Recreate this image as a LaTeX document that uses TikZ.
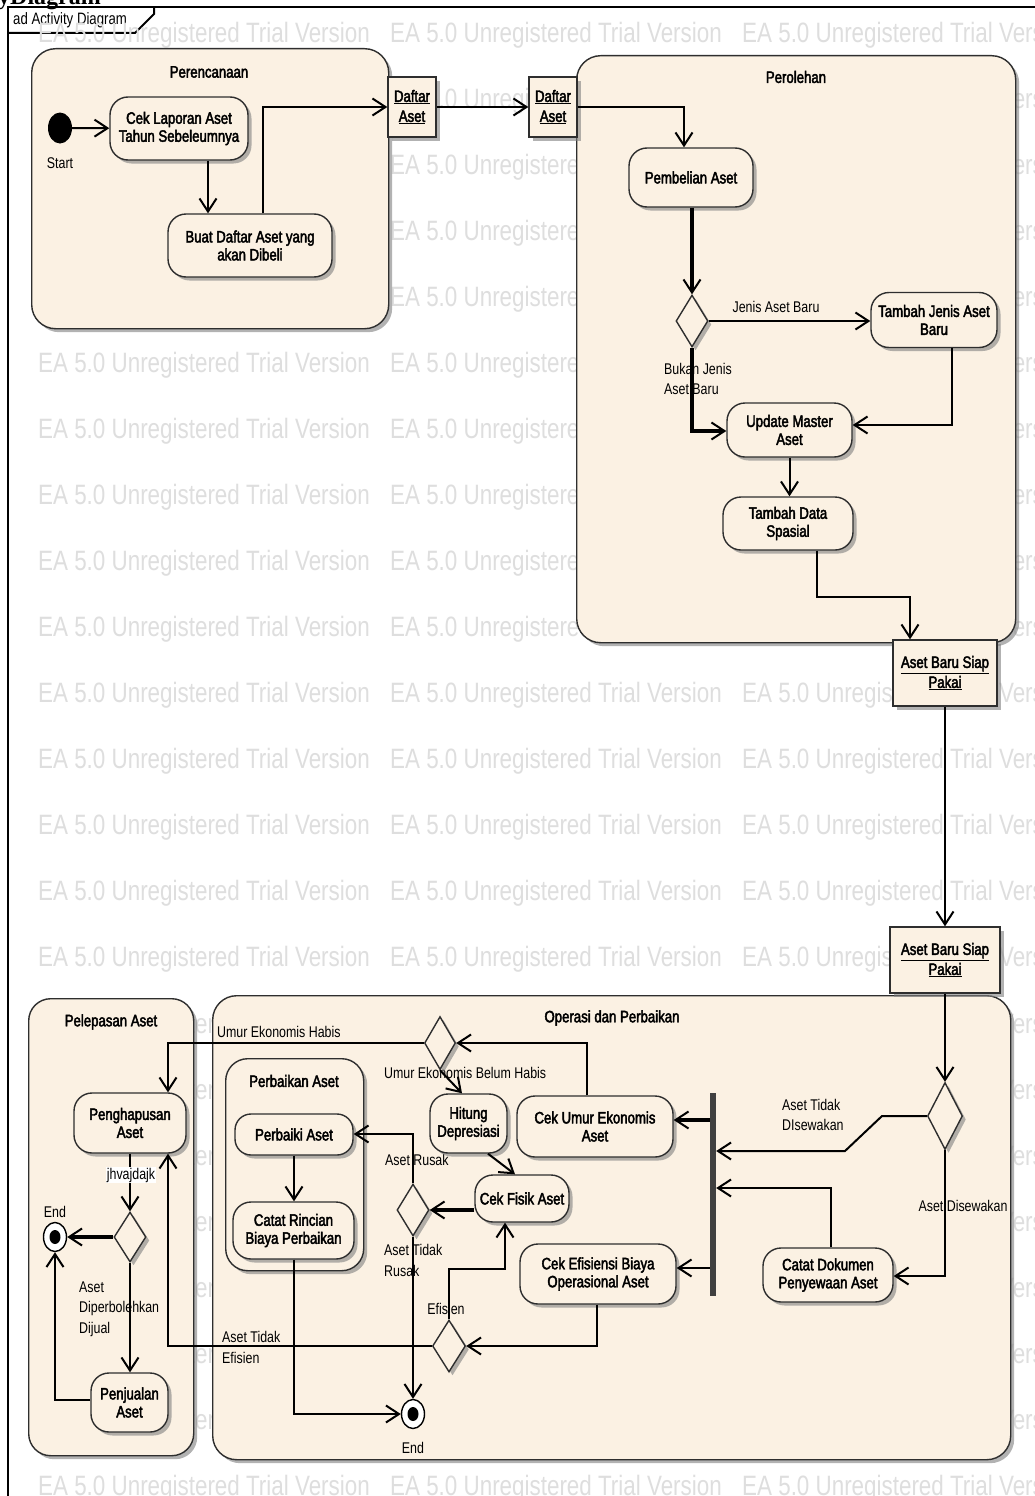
\documentclass[tikz,border=0pt]{standalone}
\usepackage{fontspec}
\setmainfont{Liberation Sans}[FakeStretch=0.8]
\newfontfamily\actfont{Liberation Sans}[FakeStretch=0.8,FakeBold=2.6]
\newfontfamily\lblfont{Liberation Sans}[FakeStretch=0.8]
\newfontfamily\capfont{Liberation Serif}
\usetikzlibrary{arrows.meta,shapes.geometric,shadows}
\definecolor{bg}{HTML}{FBF1E3}
\definecolor{wmgray}{HTML}{DEDEDE}
\tikzset{
  base/.style={draw=black!82, line width=1.4pt, fill=bg},
  shadowed/.style={drop shadow={shadow xshift=3.5pt, shadow yshift=-3.5pt, fill=black!50, opacity=.6}},
  container/.style={base, shadowed, rounded corners=24pt, inner sep=0pt, anchor=north west},
  act/.style={base, shadowed, rounded corners=18pt, inner sep=0pt, align=center,
    font=\actfont\fontsize{16.5}{18}\selectfont},
  pin/.style={base, shadowed, inner sep=0pt, align=center, font=\actfont\fontsize{16.5}{20}\selectfont},
  dec/.style={diamond, base, shadowed, inner sep=0pt},
  endnode/.style={ellipse, draw=black, line width=1.4pt, fill=white, minimum width=23pt,
    minimum height=29pt, inner sep=0pt,
    path picture={\fill[black] (path picture bounding box.center) ellipse [x radius=5.5pt, y radius=7pt];}},
  title/.style={font=\actfont\fontsize{16.5}{18}\selectfont, inner sep=0pt},
  lbl/.style={font=\lblfont\fontsize{15.5}{20.5}\selectfont, inner sep=0pt, align=left},
  wm/.style={font=\lblfont\fontsize{28}{28}\selectfont, text=wmgray, inner sep=0pt, anchor=west},
  edge/.style={line width=2pt, -{Straight Barb[length=13pt,width=17pt]}},
  thickedge/.style={line width=4pt, -{Straight Barb[length=13pt,width=17pt,line width=2pt 0 1]}},
}
\begin{document}
\begin{tikzpicture}[x=1pt,y=-1pt]
\useasboundingbox (0,0) rectangle (1034,1496);
\fill[white] (0,0) rectangle (1034,1496);

% caption above the frame
\node[anchor=base west, inner sep=0pt, font=\capfont\bfseries\fontsize{24}{24}\selectfont] (cap) at (-2,5) {yDiagram};

% diagram frame and its name tab
\draw[line width=2pt] (8,1520) -- (8,7) -- (1060,7);
\draw[line width=2pt] (8,33) -- (135,33) -- (154,14) -- (154,7);
\node[anchor=west, inner sep=0pt, font=\lblfont\fontsize{16.5}{18}\selectfont] (tab) at (13,20) {ad Activity Diagram};

% evaluation watermark
\foreach \r in {0,...,22}{\foreach \c in {0,1,2}{
  \node[wm] at ({38+352*\c},{35+66.05*\r}) {EA 5.0 Unregistered Trial Version};}}

% partitions
\node[container, minimum width=357pt, minimum height=280pt] (perenc) at (31,48) {};
\node[container, minimum width=439pt, minimum height=587pt] (peroleh) at (576,55) {};
\node[container, minimum width=165pt, minimum height=457pt, rounded corners=22pt] (pelepas) at (28,998) {};
\node[container, minimum width=798pt, minimum height=464pt] (operasi) at (212,995) {};
\node[container, minimum width=138pt, minimum height=212pt, rounded corners=22pt] (perbaikan) at (225,1058) {};

\node[title] at (209,72) {Perencanaan};
\node[title] at (796,77) {Perolehan};
\node[title] at (111,1022) {Pelepasan Aset};
\node[title] at (612,1018) {Operasi dan Perbaikan};
\node[title] at (294,1081) {Perbaikan Aset};

% guard labels
\node[lbl] at (776,307) {Jenis Aset Baru};
\node[lbl, anchor=west] at (664,379) {Bukan Jenis\\Aset Baru};
\node[lbl, anchor=west] at (782,1115) {Aset Tidak\\DIsewakan};
\node[lbl] at (963,1206) {Aset Disewakan};
\node[lbl, anchor=west] at (217,1032) {Umur Ekonomis Habis};
\node[lbl, anchor=west] at (384,1073) {Umur Ekonomis Belum Habis};
\node[lbl, anchor=west] at (385,1160) {Aset Rusak};
\node[lbl, anchor=west] at (384,1260.5) {Aset Tidak\\Rusak};
\node[lbl] at (446,1309) {Efisien};
\node[lbl, anchor=west] at (222,1347.5) {Aset Tidak\\Efisien};
\node[lbl, anchor=west] at (79,1309) {Aset\\Diperbolehkan\\Dijual};
\node[lbl] at (60,163) {Start};
\node[lbl] at (55,1212) {End};
\node[lbl] at (413,1448) {End};

% Perencanaan
\node[ellipse, fill=black, minimum width=24pt, minimum height=31pt, inner sep=0pt] (start) at (60,128) {};
\node[act, minimum width=138pt, minimum height=63pt] (cek) at (179,128.5) {Cek Laporan Aset\\Tahun Sebeleumnya};
\node[act, minimum width=164pt, minimum height=63pt] (buat) at (250,245.5) {Buat Daftar Aset yang\\akan Dibeli};
\node[pin, minimum width=48pt, minimum height=60pt] (pin1) at (412,107) {\underline{Daftar}\\\underline{Aset}};
\node[pin, minimum width=48pt, minimum height=60pt] (pin2) at (553,107) {\underline{Daftar}\\\underline{Aset}};

% Perolehan
\node[act, minimum width=124pt, minimum height=59pt] (pemb) at (691,177.5) {Pembelian Aset};
\node[dec, minimum width=32pt, minimum height=52pt] (d1) at (692,321) {};
\node[act, minimum width=126pt, minimum height=55pt] (tj) at (934,320) {Tambah Jenis Aset\\Baru};
\node[act, minimum width=125pt, minimum height=54pt] (upd) at (789.5,430) {Update Master\\Aset};
\node[act, minimum width=130pt, minimum height=53pt] (tds) at (788,523.5) {Tambah Data\\Spasial};
\node[pin, minimum width=104pt, minimum height=66pt] (pin3) at (945,673) {\underline{Aset Baru Siap}\\\underline{Pakai}};
\node[pin, minimum width=110pt, minimum height=66pt] (pin4) at (945,960) {\underline{Aset Baru Siap}\\\underline{Pakai}};

% Operasi dan Perbaikan
\node[dec, minimum width=35pt, minimum height=67pt] (dsewa) at (945,1116) {};
\node[fill=black!75, minimum width=6pt, minimum height=203pt, inner sep=0pt] (bar) at (713,1194.5) {};
\node[act, minimum width=130pt, minimum height=54pt] (cdok) at (828,1275) {Catat Dokumen\\Penyewaan Aset};
\node[act, minimum width=156pt, minimum height=61pt] (cumur) at (595,1126.5) {Cek Umur Ekonomis\\Aset};
\node[act, minimum width=156pt, minimum height=60pt] (cef) at (598,1274) {Cek Efisiensi Biaya\\Operasional Aset};
\node[dec, minimum width=31pt, minimum height=53pt] (dumur) at (440,1043) {};
\node[act, minimum width=77pt, minimum height=59pt] (hit) at (468.5,1123.5) {Hitung\\Depresiasi};
\node[act, minimum width=94pt, minimum height=47pt] (cfis) at (522,1198.5) {Cek Fisik Aset};
\node[dec, minimum width=32pt, minimum height=52pt] (drus) at (413,1210) {};
\node[act, minimum width=118pt, minimum height=41pt, rounded corners=16pt] (perb) at (294,1134.5) {Perbaiki Aset};
\node[act, minimum width=121pt, minimum height=57pt] (crin) at (293.5,1230.5) {Catat Rincian\\Biaya Perbaikan};
\node[endnode] (end2) at (413,1414) {};
\node[dec, minimum width=33pt, minimum height=52pt] (deff) at (449,1346) {};

% Pelepasan Aset
\node[act, minimum width=112pt, minimum height=60pt] (peng) at (130,1123) {Penghapusan\\Aset};
\node[dec, minimum width=32pt, minimum height=50pt] (djual) at (130,1237) {};
\node[endnode] (end1) at (55,1237) {};
\node[act, minimum width=77pt, minimum height=59pt] (penj) at (129.5,1402.5) {Penjualan\\Aset};

% bend points of the flows
\coordinate (c1) at (208,0);
\coordinate (k1) at (263,107);
\coordinate (k2) at (684,107);
\coordinate (k3) at (952,425);
\coordinate (k4) at (692,431);
\coordinate (k5) at (817,597);
\coordinate (k6) at (910,597);
\coordinate (k7) at (882,1116);
\coordinate (k8) at (845,1151);
\coordinate (k9) at (945,1276);
\coordinate (k10) at (831,1188);
\coordinate (k11) at (713,1120);
\coordinate (k12) at (713,1268);
\coordinate (k13) at (587,1043);
\coordinate (k14) at (168,1043);
\coordinate (k15) at (462,0);
\coordinate (k16) at (488,0);
\coordinate (k17) at (515,0);
\coordinate (k19) at (413,1134);
\coordinate (k20) at (294,1414);
\coordinate (k21) at (597,1346);
\coordinate (k22) at (449,1269);
\coordinate (k23) at (505,1269);
\coordinate (k24) at (168,1346);
\coordinate (k25) at (55,1400);

% flows
\draw[edge] (start) -- (cek);
\draw[edge] (cek.south -| c1) -- (buat.north -| c1);
\draw[edge] (buat.north -| k1) -- (k1) -- (pin1.west);
\draw[edge] (pin1.east) -- (pin2.west);
\draw[edge] (pin2.east) -- (k2) -- (k2 |- pemb.north);
\draw[thickedge] (pemb.south -| d1.north) -- (d1.north);
\draw[edge] (d1.east) -- (d1.east -| tj.west);
\draw[edge] (tj.south -| k3) -- (k3) -- (k3 -| upd.east);
\draw[thickedge] (d1.south) -- (k4) -- (k4 -| upd.west);
\draw[edge] (upd.south) -- (upd.south |- tds.north);
\draw[edge] (tds.south -| k5) -- (k5) -- (k6) -- (k6 |- pin3.north);
\draw[edge] (pin3.south) -- (pin4.north);
\draw[edge] (pin4.south) -- (dsewa.north);
\draw[edge] (dsewa.west) -- (k7) -- (k8) -- (k8 -| bar.east);
\draw[edge] (dsewa.south) -- (k9) -- (k9 -| cdok.east);
\draw[edge] (cdok.north -| k10) -- (k10) -- (k10 -| bar.east);
\draw[thickedge] (k11 -| bar.west) -- (k11 -| cumur.east);
\draw[edge] (k12 -| bar.west) -- (k12 -| cef.east);
\draw[edge] (cumur.north -| k13) -- (k13) -- (dumur.east);
\draw[edge] (dumur.west) -- (k14) -- (k14 |- peng.north);
\draw[edge] (dumur.south) -- (hit.north -| k15);
\draw[edge] (hit.south -| k16) -- (cfis.north -| k17);
\draw[thickedge] (cfis.west |- drus.east) -- (drus.east);
\draw[edge] (drus.north) -- (k19) -- (k19 -| perb.east);
\draw[edge] (drus.south) -- (end2.north);
\draw[edge] (perb.south) -- (perb.south |- crin.north);
\draw[edge] (crin.south -| k20) -- (k20) -- (end2.west);
\draw[edge] (cef.south -| k21) -- (k21) -- (deff.east);
\draw[edge] (deff.north) -- (k22) -- (k23) -- (k23 |- cfis.south);
\draw[edge] (deff.west) -- (k24) -- (k24 |- peng.south);
\draw[edge] (peng.south) -- (djual.north);
\draw[thickedge] (djual.west) -- (end1.east);
\draw[edge] (djual.south) -- (djual.south |- penj.north);
\draw[edge] (penj.west |- k25) -- (k25) -- (end1.south);

\node[lbl, fill=white, inner sep=1pt] at (131,1175) {jhvajdajk};
\end{tikzpicture}
\end{document}
